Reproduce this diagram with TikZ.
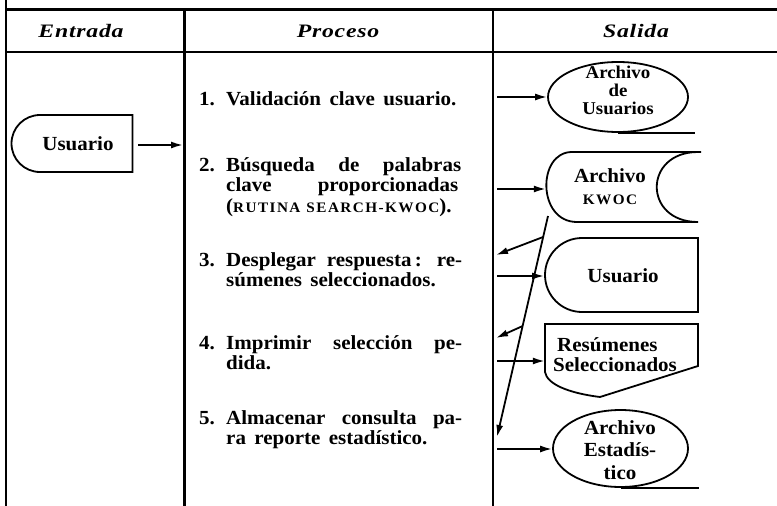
\documentclass[tikz,border=0pt]{standalone}
\usepackage{fontspec}
\setmainfont{Liberation Serif}[FakeStretch=1.05]
\newfontfamily\hdrfamily{Liberation Serif}[FakeStretch=1.25,LetterSpace=4]
\usetikzlibrary{shapes.geometric,shapes.misc,arrows.meta,calc}
\newcommand\bodyf{\fontsize{20}{20}\selectfont\bfseries\spaceskip=0.42em plus 0.3em minus 0.1em\relax}
\newcommand\hdrf{\hdrfamily\bfseries\itshape\fontsize{19}{19}\selectfont}
\newcommand\fsc[1]{{\fontsize{14.5}{14.5}\selectfont\addfontfeature{LetterSpace=10}#1}}
\tikzset{
  frame/.style={line width=2.4pt},
  arr/.style={line width=1.8pt,-{Latex[length=12pt,width=7pt]}},
  shp/.style={draw,line width=1.8pt},
  ln/.style={anchor=base west,inner sep=0pt,font=\bodyf},
  hdr/.style={anchor=base,inner sep=0pt,font=\hdrf},
  stxt/.style={inner sep=0pt,align=center,font=\bodyf},
  ctxt/.style={anchor=base,inner sep=0pt,font={\bfseries\fontsize{18}{18}\selectfont}},
}
\begin{document}
\begin{tikzpicture}[x=1pt,y=-1pt]
\useasboundingbox (0,0) rectangle (777,506);
% frame
\draw[frame] (6,0) -- (6,506);
\draw[frame] (6,9.5) -- (777,9.5);
\draw[frame] (6,52) -- (777,52);
\draw[frame] (184.5,9.5) -- (184.5,506);
\draw[frame] (493,9.5) -- (493,506);
% headers
\node[hdr] (h1) at (81,37) {Entrada};
\node[hdr] (h2) at (338,37) {Proceso};
\node[hdr] (h3) at (636,37) {Salida};
% input
\node[shp,rounded rectangle,rounded rectangle right arc=none,minimum width=121pt,minimum height=57pt,inner sep=0pt] (ui) at (72,143.5) {};
\node[stxt] (uit) at (78,144) {Usuario};
\coordinate (c0) at (183,145);
\draw[arr] ([xshift=5pt]ui.east |- c0) -- (c0);
% process text
\node[ln] (n1) at (199,105) {1.};
\node[ln] (t1) at (226,105) {Validación clave usuario.};
\node[ln] (n2) at (199,171) {2.};
\node[ln] (t2a) at (226,171) {\makebox[235pt][s]{Búsqueda de palabras}};
\node[ln] (t2b) at (226,191) {\makebox[232pt][s]{clave proporcionadas}};
\node[ln] (t2c) at (226,212) {(\fsc{RUTINA\hspace{6pt}SEARCH-KWOC}).};
\node[ln] (n3) at (199,266) {3.};
\node[ln] (t3a) at (226,266) {\makebox[236pt][s]{Desplegar respuesta\,: re-}};
\node[ln] (t3b) at (226,286) {súmenes seleccionados.};
\node[ln] (n4) at (199,349) {4.};
\node[ln] (t4a) at (226,349) {\makebox[236pt][s]{Imprimir selección pe-}};
\node[ln] (t4b) at (226,369) {dida.};
\node[ln] (n5) at (199,424) {5.};
\node[ln] (t5a) at (226,424) {\makebox[236pt][s]{Almacenar consulta pa-}};
\node[ln] (t5b) at (226,444) {ra reporte estadístico.};
% output 1: ellipse
\node[shp,ellipse,minimum width=140pt,minimum height=70pt,inner sep=0pt] (e1) at (618,97) {};
\node[ctxt] (e1a) at (618,78.5) {Archivo};
\node[ctxt] (e1b) at (618,96.5) {de};
\node[ctxt] (e1c) at (618,114.5) {Usuarios};
\draw[shp] (e1.south) -- ++(77,0);
% output 2: KWOC
\node[minimum width=152pt,minimum height=70pt,inner sep=0pt] (kwoc) at (622,187) {};
\draw[shp] (701,152) -- (572,152) .. controls (537,152) and (537,222) .. (577,222) -- (698,222) .. controls (643,222) and (643,152) .. (698,152);
\node[stxt,font={\bfseries\fontsize{20}{22}\selectfont}] (kwt) at (610,187) {Archivo\\\fsc{KWOC}};
% output 3: Usuario
\node[shp,rounded rectangle,rounded rectangle right arc=none,minimum width=153pt,minimum height=74pt,inner sep=0pt] (uo) at (621.5,275) {};
\node[stxt] (uot) at (623,276) {Usuario};
% output 4: document
\node[minimum width=153pt,minimum height=73pt,inner sep=0pt] (doc) at (621.5,360.5) {};
\draw[shp] (545,324) -- (698,324) -- (698,366) -- (600,397) .. controls (568,393) and (547,384) .. (545,372) -- cycle;
\node[ln] (dt1) at (557,351) {Resúmenes};
\node[ln] (dt2) at (553,371) {Seleccionados};
% output 5: ellipse
\node[shp,ellipse,minimum width=135pt,minimum height=77pt,inner sep=0pt] (e2) at (620.5,448.5) {};
\node[stxt,font={\bfseries\fontsize{20}{22.5}\selectfont}] (e2t) at (620,450) {Archivo\\Estadís-\\tico};
\draw[shp] (e2.south) -- ++(78,0);
% arrows to outputs
\coordinate (r1) at (497,97);
\coordinate (r2) at (497,189);
\coordinate (r3) at (497,276);
\coordinate (r4) at (497,361);
\coordinate (r5) at (497,449);
\draw[arr] (r1) -- (r1 -| e1.west);
\draw[arr] (r2) -- (r2 -| kwoc.west);
\draw[arr] (r3) -- (r3 -| uo.west);
\draw[arr] (r4) -- (r4 -| doc.west);
\draw[arr] (r5) -- (r5 -| e2.west);
% return path from KWOC
\coordinate (d0) at (548,216);
\coordinate (d1) at (497,437);
\coordinate (l1) at (496,255);
\coordinate (l2) at (496,338);
\draw[arr] (d0) -- (d1);
\draw[arr] ($(d0)!0.095!(d1)$) -- (l1);
\draw[arr] ($(d0)!0.498!(d1)$) -- (l2);
\end{tikzpicture}
\end{document}
